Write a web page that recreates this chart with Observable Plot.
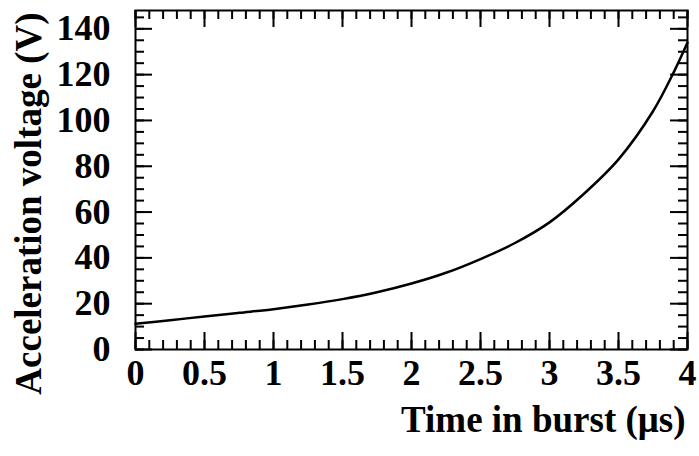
<!DOCTYPE html>
<html>
<head>
<meta charset="utf-8">
<script src="https://cdn.jsdelivr.net/npm/d3@7"></script>
<script src="https://cdn.jsdelivr.net/npm/@observablehq/plot@0.6"></script>
<style>
  html, body { margin: 0; padding: 0; background: #fff; }
</style>
</head>
<body>
<div id="chart"></div>
<script>
// Data
const times    = [0, 0.25, 0.5, 0.75, 1, 1.25, 1.5, 1.75, 2, 2.25, 2.5, 2.75, 3, 3.25, 3.5, 3.75, 3.9, 4];
const voltages = [11.2, 12.8, 14.4, 16.0, 17.6, 19.6, 22.0, 25.0, 28.8, 33.5, 39.5, 46.5, 55.5, 68, 83, 104, 121, 134];

const xTickValues = [0, 0.5, 1, 1.5, 2, 2.5, 3, 3.5, 4];
const yTickValues = [0, 20, 40, 60, 80, 100, 120, 140];
const xMinorValues = d3.range(0, 41).map(i => i / 10);
const yMinorValues = d3.range(0, 30).map(i => i * 5);

const xTitle = "Time in burst (μs)";
const yTitle = "Acceleration voltage (V)";

const data = times.map((t, i) => ({t, v: voltages[i]}));

const W = 699, H = 456;
const mL = 135, mR = 12, mT = 10, mB = 107;
const innerW = W - mL - mR, innerH = H - mT - mB;
const major = 17, minor = 9;

const chart = Plot.plot({
  width: W,
  height: H,
  marginLeft: mL,
  marginRight: mR,
  marginTop: mT,
  marginBottom: mB,
  style: {fontFamily: "'Liberation Serif', 'Times New Roman', serif", background: "#fff", color: "#000"},
  x: {domain: [0, 4], label: null, axis: null},
  y: {domain: [0, 148], label: null, axis: null},
  marks: [
    // minor ticks (inside, all four sides)
    Plot.ruleX(xMinorValues, {stroke: "#000", strokeWidth: 2, insetTop: innerH - minor}),
    Plot.ruleX(xMinorValues, {stroke: "#000", strokeWidth: 2, insetBottom: innerH - minor}),
    Plot.ruleY(yMinorValues, {stroke: "#000", strokeWidth: 2, insetRight: innerW - minor}),
    Plot.ruleY(yMinorValues, {stroke: "#000", strokeWidth: 2, insetLeft: innerW - minor}),
    // major ticks
    Plot.ruleX(xTickValues, {stroke: "#000", strokeWidth: 2, insetTop: innerH - major}),
    Plot.ruleX(xTickValues, {stroke: "#000", strokeWidth: 2, insetBottom: innerH - major}),
    Plot.ruleY(yTickValues, {stroke: "#000", strokeWidth: 2, insetRight: innerW - major}),
    Plot.ruleY(yTickValues, {stroke: "#000", strokeWidth: 2, insetLeft: innerW - major}),
    // tick labels
    Plot.text(xTickValues, {x: d => d, text: d => String(d), frameAnchor: "bottom", textAnchor: "middle", lineAnchor: "middle", dy: 24, fontSize: 36, fontWeight: "bold", fill: "#000"}),
    Plot.text(yTickValues, {y: d => d, text: d => String(d), frameAnchor: "left", textAnchor: "end", lineAnchor: "middle", dx: -25, fontSize: 36, fontWeight: "bold", fill: "#000"}),
    // curve
    Plot.line(data, {x: "t", y: "v", curve: "catmull-rom", stroke: "#000", strokeWidth: 2.5}),
    // frame
    Plot.frame({stroke: "#000", strokeWidth: 2}),
    // axis titles
    Plot.text([xTitle], {text: d => d, frameAnchor: "bottom-right", textAnchor: "end", lineAnchor: "middle", dx: -2, dy: 71, fontSize: 37, fontWeight: "bold", fill: "#000"}),
    Plot.text([yTitle], {text: d => d, frameAnchor: "top-left", textAnchor: "end", lineAnchor: "middle", rotate: -90, dx: -106.5, dy: 2, fontSize: 37, fontWeight: "bold", fill: "#000"})
  ]
});
document.getElementById("chart").appendChild(chart);
</script>
</body>
</html>
